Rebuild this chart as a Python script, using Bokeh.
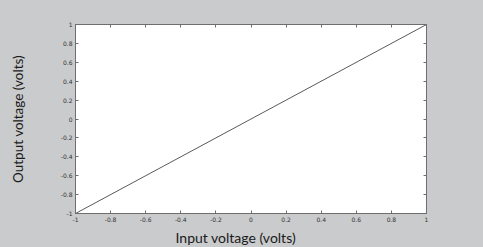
from bokeh.plotting import figure
from bokeh.models import LinearAxis, FixedTicker, Range1d, Title
from bokeh.embed import file_html
from bokeh.resources import INLINE

input_v = [-1.0, -0.5, 0.0, 0.5, 1.0]
output_v = [-1.0, -0.5, 0.0, 0.5, 1.0]
ticks = [-1, -0.8, -0.6, -0.4, -0.2, 0, 0.2, 0.4, 0.6, 0.8, 1]
tick_labels = {t: ("%g" % t) for t in ticks}
x_title = "Input voltage (volts)"
y_title = "Output voltage (volts)"

BG = "#c9cbcc"
AX = "#6e6e6e"

p = figure(width=483, height=247, output_backend="svg", toolbar_location=None,
           x_range=Range1d(-1, 1), y_range=Range1d(-1, 1),
           background_fill_color="white", border_fill_color=BG,
           min_border_left=75, min_border_right=57, min_border_top=24, min_border_bottom=33)
p.grid.visible = False
p.outline_line_color = AX

p.line(input_v, output_v, line_color="#5a5a5a", line_width=1)

def style(ax, labels=True):
    ax.ticker = FixedTicker(ticks=ticks)
    ax.major_tick_in = 3
    ax.major_tick_out = 0
    ax.minor_tick_line_color = None
    ax.axis_line_color = AX
    ax.major_tick_line_color = AX
    if labels:
        ax.major_label_overrides = tick_labels
        ax.major_label_text_font_size = "6px"
        ax.major_label_text_color = "#333333"
        ax.major_label_text_font = "DejaVu Sans"
        ax.major_label_standoff = 3
    else:
        ax.major_label_text_font_size = "1px"
        ax.major_label_text_color = None
        ax.major_label_standoff = 0

style(p.xaxis[0])
style(p.yaxis[0])

p.yaxis[0].axis_label = y_title
p.yaxis[0].axis_label_standoff = 32
p.yaxis[0].axis_label_text_font = "Lato"
p.yaxis[0].axis_label_text_font_style = "normal"
p.yaxis[0].axis_label_text_font_size = "13.5px"
p.yaxis[0].axis_label_text_color = "#1a1a1a"

top = LinearAxis()
right = LinearAxis()
style(top, labels=False)
style(right, labels=False)
p.add_layout(top, "above")
p.add_layout(right, "right")

xt = Title(text=x_title, align="left", offset=100, standoff=4, text_font="Lato",
           text_font_size="14px", text_font_style="normal", text_color="#1a1a1a")
p.add_layout(xt, "below")

html = file_html(p, INLINE)
html = html.replace("<head>", "<head><style>html,body{background:%s;}</style>" % BG, 1)
open("out.html", "w").write(html)
